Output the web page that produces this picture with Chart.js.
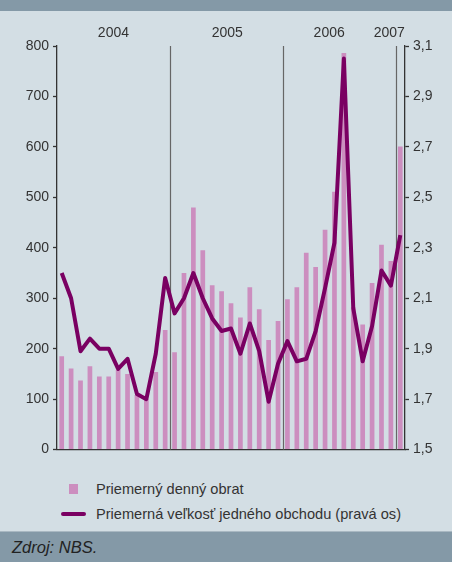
<!DOCTYPE html>
<html>
<head>
<meta charset="utf-8">
<script src="https://cdn.jsdelivr.net/npm/chart.js@4"></script>
<style>
  html, body { margin:0; padding:0; }
  body { width:452px; height:562px; background:#d3dee4; position:relative; overflow:hidden;
         font-family:"Liberation Sans", Arial, sans-serif; color:#333; }
  #hdr { position:absolute; left:0; top:0; width:452px; height:11px; background:#8499a7; }
  #wrap { position:absolute; left:0; top:0; width:452px; height:462px; }
  #legend { position:absolute; left:0; top:478px; width:452px; font-size:14.6px; color:#333; }
  .li { position:absolute; left:96px; white-space:nowrap; line-height:16px; }
  .sq { position:absolute; left:69px; width:9px; height:10px; background:#cc8ebf; }
  .ln { position:absolute; left:61px; width:25px; height:4px; border-radius:2px; background:#7a0062; }
  #ftr { position:absolute; left:0; top:531px; width:452px; height:31px; background:#8499a7;
         border-top:1px solid #a9b8c2; box-sizing:border-box; }
  #ftr span { position:absolute; left:12px; top:6px; font-style:italic; font-size:16.5px; color:#222; }
</style>
</head>
<body>
<div id="hdr"></div>
<div id="wrap"><canvas id="c"></canvas></div>
<div id="legend">
  <div class="sq" style="top:6px"></div><div class="li" style="top:3px">Priemerný denný obrat</div>
  <div class="ln" style="top:34px"></div><div class="li" style="top:28px">Priemerná veľkosť jedného obchodu (pravá os)</div>
</div>
<div id="ftr"><span>Zdroj: NBS.</span></div>
<script>
const months = [
  '1/04','2/04','3/04','4/04','5/04','6/04','7/04','8/04','9/04','10/04','11/04','12/04',
  '1/05','2/05','3/05','4/05','5/05','6/05','7/05','8/05','9/05','10/05','11/05','12/05',
  '1/06','2/06','3/06','4/06','5/06','6/06','7/06','8/06','9/06','10/06','11/06','12/06',
  '1/07'
];
const dailyTurnover = [
  185,161,137,165,145,145,158,150,108,100,154,237,
  193,350,480,395,326,314,290,262,322,278,217,255,
  298,322,390,362,436,511,786,282,248,330,406,374,
  601
];
const avgTradeSize = [
  2.20,2.10,1.89,1.94,1.90,1.90,1.82,1.86,1.72,1.70,1.88,2.18,
  2.04,2.10,2.20,2.10,2.02,1.97,1.98,1.88,2.00,1.89,1.69,1.84,
  1.93,1.85,1.86,1.97,2.14,2.32,3.05,2.06,1.85,1.99,2.21,2.15,
  2.35
];
const years = ['2004','2005','2006','2007'];
const yearStartIdx = [0,12,24,36];
const leftTicks = [0,100,200,300,400,500,600,700,800];
const rightTicks = [1.5,1.7,1.9,2.1,2.3,2.5,2.7,2.9,3.1];

const TXT = '#333';
const AX = '#333';

const yearPlugin = {
  id: 'years',
  beforeDatasetsDraw(chart) {
    const ctx = chart.ctx, x = chart.scales.x, area = chart.chartArea;
    ctx.save();
    ctx.strokeStyle = '#666';
    ctx.lineWidth = 1.2;
    for (let i = 1; i < yearStartIdx.length; i++) {
      const px = Math.round(x.getPixelForValue(yearStartIdx[i] - 0.5)) + 0.5;
      ctx.beginPath(); ctx.moveTo(px, area.top); ctx.lineTo(px, area.bottom); ctx.stroke();
    }
    ctx.restore();
  },
  afterDraw(chart) {
    const ctx = chart.ctx, x = chart.scales.x;
    const shift = [0, 1, -10, -11];
    ctx.save();
    ctx.font = '14px "Liberation Sans", Arial, sans-serif';
    ctx.fillStyle = TXT;
    ctx.textAlign = 'center';
    ctx.textBaseline = 'middle';
    for (let i = 0; i < years.length; i++) {
      const s = yearStartIdx[i];
      const e = (i + 1 < yearStartIdx.length ? yearStartIdx[i + 1] : months.length) - 1;
      const a = x.getPixelForValue(s - 0.5), b = x.getPixelForValue(e + 0.5);
      ctx.fillText(years[i], (a + b) / 2 + shift[i], 33);
    }
    ctx.restore();
  }
};

new Chart(document.getElementById('c'), {
  data: {
    labels: months,
    datasets: [
      { type:'line', label:'Priemerná veľkosť jedného obchodu (pravá os)', data: avgTradeSize,
        yAxisID:'y1', borderColor:'#7a0062', borderWidth:4, pointRadius:0, tension:0,
        borderJoinStyle:'round', borderCapStyle:'butt', order:0 },
      { type:'bar', label:'Priemerný denný obrat', data: dailyTurnover, yAxisID:'y',
        backgroundColor:'#cc8ebf', barPercentage:0.5, categoryPercentage:1.0, order:1 }
    ]
  },
  options: {
    responsive:true, maintainAspectRatio:false, animation:false,
    layout: { padding: { top:46, bottom:10, left:0, right:0 } },
    plugins: { legend:{ display:false }, tooltip:{ enabled:false } },
    scales: {
      x: {
        offset:true,
        grid:{ display:false },
        border:{ display:true, color:AX, width:1.3 },
        ticks:{ display:false },
        afterFit(s){ s.height = 0; }
      },
      y: {
        position:'left', min:0, max:800,
        afterBuildTicks(s){ s.ticks = leftTicks.map(v => ({value:v})); },
        grid:{ drawOnChartArea:false, drawTicks:true, tickLength:4, color:AX, tickWidth:1.3 },
        border:{ display:true, color:AX, width:1.3 },
        ticks:{ color:TXT, padding:4, font:{ size:14, family:'"Liberation Sans", Arial, sans-serif' } },
        afterFit(s){ s.width = 57; }
      },
      y1: {
        position:'right', min:1.5, max:3.1,
        afterBuildTicks(s){ s.ticks = rightTicks.map(v => ({value:v})); },
        grid:{ drawOnChartArea:false, drawTicks:true, tickLength:4, color:AX, tickWidth:1.3 },
        border:{ display:true, color:AX, width:1.3 },
        ticks:{ color:TXT, padding:4, font:{ size:14, family:'"Liberation Sans", Arial, sans-serif' },
          callback(v){ return v.toFixed(1).replace('.', ','); } },
        afterFit(s){ s.width = 47; }
      }
    }
  },
  plugins:[yearPlugin]
});
</script>
</body>
</html>
